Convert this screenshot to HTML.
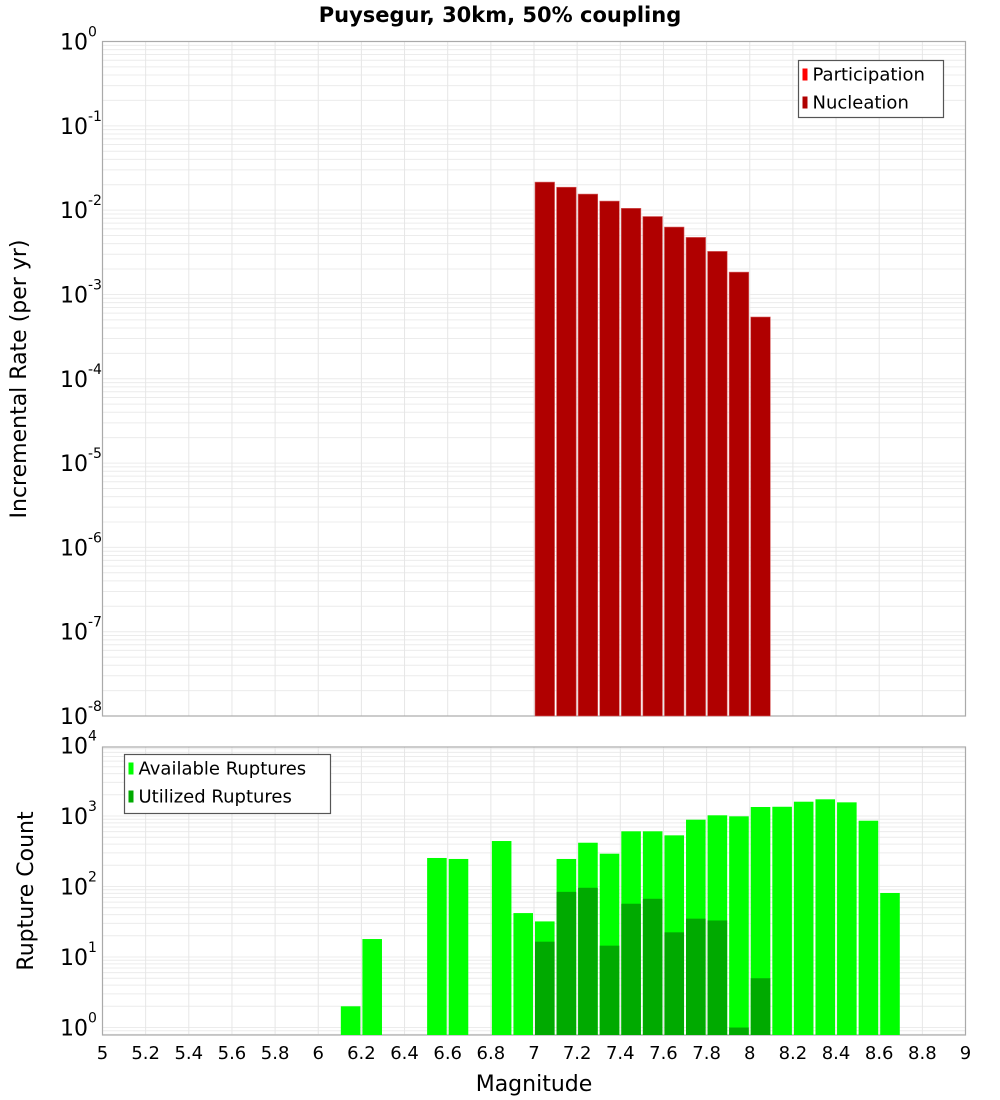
<!DOCTYPE html>
<html><head><meta charset="utf-8"><style>
body{margin:0;background:#fff;}
svg{display:block;font-family:"DejaVu Sans","Liberation Sans",sans-serif;}
</style></head><body>
<svg id="c" width="1000" height="1100" xmlns="http://www.w3.org/2000/svg">
<text x="500" y="22" text-anchor="middle" font-size="21" font-weight="bold">Puysegur, 30km, 50% coupling</text>
<g id="top"></g><g id="bot"></g>
<text transform="translate(26,379) rotate(-90)" text-anchor="middle" font-size="22">Incremental Rate (per yr)</text>
<text transform="translate(33,891) rotate(-90)" text-anchor="middle" font-size="22">Rupture Count</text>
<text x="534" y="1091" text-anchor="middle" font-size="22">Magnitude</text>
</svg>
<script>
const nuclMags=[7.05,7.15,7.25,7.35,7.45,7.55,7.65,7.75,7.85,7.95,8.05];
const nuclRates=[0.0215,0.0187,0.0155,0.0128,0.0105,0.0084,0.0063,0.00475,0.00324,0.00184,0.00054];
const availMags=[6.15,6.25,6.55,6.65,6.85,6.95,7.05,7.15,7.25,7.35,7.45,7.55,7.65,7.75,7.85,7.95,8.05,8.15,8.25,8.35,8.45,8.55,8.65];
const availCounts=[2,18,254,246,442,42,32,246,418,292,607,607,532,887,1024,990,1343,1353,1596,1726,1563,858,81];
const utilMags=[7.05,7.15,7.25,7.35,7.45,7.55,7.65,7.75,7.85,7.95,8.05];
const utilCounts=[16.5,84,96,14.5,57,67,22.4,35,33,1,5];
const xTicks=[5,5.2,5.4,5.6,5.8,6,6.2,6.4,6.6,6.8,7,7.2,7.4,7.6,7.8,8,8.2,8.4,8.6,8.8,9];
const topDecades=[0,-1,-2,-3,-4,-5,-6,-7,-8];
const botDecades=[0,1,2,3,4];

const NS="http://www.w3.org/2000/svg";
const X0=102.5,X1=965.5;
const xs=m=>X0+(m-5)/4*(X1-X0);
function mk(p,tag,at){const e=document.createElementNS(NS,tag);for(const k in at)e.setAttribute(k,at[k]);p.appendChild(e);return e;}

function panel(g,top,bot,lmin,lmax,decs,name){
  const ys=v=>bot-(Math.log10(v)-lmin)/(lmax-lmin)*(bot-top);
  const grid=mk(g,'g',{});
  
  
  for(let d=Math.floor(lmin);d<=Math.ceil(lmax);d++){for(let k=1;k<10;k++){const v=k*Math.pow(10,d);const l=Math.log10(v);if(l<lmin||l>lmax)continue;const y=ys(v);mk(grid,'line',{x1:X0,x2:X1,y1:y,y2:y,stroke:'#ececec','stroke-width':1});}}
  xTicks.forEach(t=>{const x=xs(t);mk(grid,'line',{x1:x,x2:x,y1:top,y2:bot,stroke:'#e6e6e6','stroke-width':1});});
  const fr=mk(g,'rect',{x:X0,y:top,width:X1-X0,height:bot-top,fill:'none',stroke:'#aaa','stroke-width':1.2});
  
  
  decs.forEach(d=>{const y=bot-(d-lmin)/(lmax-lmin)*(bot-top);
    const t=mk(g,'text',{x:60,y:y+8,'font-size':22,'text-anchor':'start'});
    
    
    t.innerHTML='10<tspan dy="-13" font-size="14">'+d+'</tspan>';});
  return ys;
}
const tg=document.getElementById('top'),bg=document.getElementById('bot');
const ysT=panel(tg,41.5,716,-8,0,topDecades,'top');
const bw=(X1-X0)/40;
nuclMags.forEach((m,i)=>{const y=ysT(nuclRates[i]);
  const r=mk(tg,'rect',{x:xs(m)-bw/2+1,y:y,width:bw-2,height:716-y,fill:'#b00000',stroke:'#d86060','stroke-width':0.6});
  
  });
const ysB=panel(bg,747,1035,-0.106,3.979,botDecades,'bottom');
availMags.forEach((m,i)=>{const y=ysB(availCounts[i]);
  const r=mk(bg,'rect',{x:xs(m)-bw/2+1,y:y,width:bw-2,height:1035-y,fill:'#00ff00'});
  
  });
utilMags.forEach((m,i)=>{const y=ysB(utilCounts[i]);
  const r=mk(bg,'rect',{x:xs(m)-bw/2+1,y:y,width:bw-2,height:1035-y,fill:'#00aa00'});
  
  });
xTicks.forEach(t=>{const tx=mk(bg,'text',{x:xs(t),y:1059,'font-size':18,'text-anchor':'middle'});
  
  
  tx.textContent=String(t);});
function legend(g,x,y,w,h,items,name){
  const lg=mk(g,'g',{});
  
  
  mk(lg,'rect',{x:x,y:y,width:w,height:h,fill:'#fff',stroke:'#555','stroke-width':1.2});
  items.forEach((it,i)=>{const cy=y+14+i*28;
    mk(lg,'rect',{x:x+4,y:cy-6,width:5,height:12,fill:it[1]});
    const t=mk(lg,'text',{x:x+14,y:cy+6,'font-size':18});
    
    
    t.textContent=it[0];});
}
legend(tg,798.5,60.5,145,57,[['Participation','#ff0000'],['Nucleation','#b00000']],'top-legend');
legend(bg,124.5,754.5,206,59,[['Available Ruptures','#00ff00'],['Utilized Ruptures','#00aa00']],'bottom-legend');
</script>
</body></html>
